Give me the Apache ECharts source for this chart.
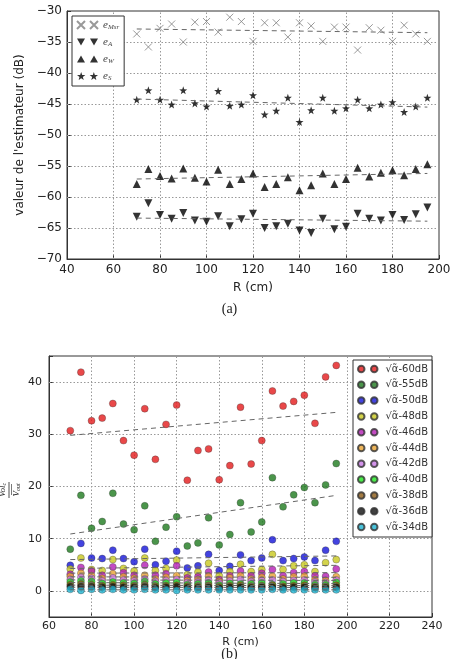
<!DOCTYPE html>
<html>
<head>
<meta charset="utf-8">
<script src="https://cdn.jsdelivr.net/npm/echarts@6/dist/echarts.min.js"></script>
<style>
  html, body { margin: 0; padding: 0; background: #fff; }
  #main { width: 459px; height: 659px; }
</style>
</head>
<body>
<div id="main"></div>
<script>
// distances R (cm), communes aux deux figures
var R = [70, 75, 80, 85, 90, 95, 100, 105, 110, 115, 120, 125, 130, 135, 140, 145, 150, 155, 160, 165, 170, 175, 180, 185, 190, 195];
var trendR = [70, 195];

// graduations (lignes de grille)
var ticksXA = [60, 80, 100, 120, 140, 160, 180];
var ticksYA = [-65, -60, -55, -50, -45, -40, -35];
var ticksXB = [80, 100, 120, 140, 160, 180, 200, 220];
var ticksYB = [0, 10, 20, 30, 40];

// (a) valeur de l'estimateur (dB)
var eMsr = [-33.7, -35.8, -32.8, -32.1, -35.0, -31.8, -31.7, -33.4, -31.0, -31.7, -34.9, -31.9, -31.9, -34.2, -31.9, -32.4, -34.9, -32.6, -32.6, -36.3, -32.7, -33.1, -34.9, -32.3, -33.7, -34.9];
var eA = [-63.2, -61.0, -62.9, -63.5, -62.6, -63.8, -64.0, -63.1, -64.7, -63.6, -62.7, -65.0, -64.7, -64.3, -65.4, -65.8, -63.5, -65.2, -64.8, -62.7, -63.5, -63.8, -62.9, -63.7, -62.8, -61.7];
var eW = [-57.9, -55.5, -56.6, -57.0, -55.4, -56.9, -57.5, -55.6, -57.9, -57.1, -56.2, -58.4, -57.9, -56.8, -58.9, -58.1, -56.2, -57.9, -57.1, -55.3, -56.7, -56.1, -55.7, -56.5, -55.5, -54.7];
var eS = [-44.3, -42.8, -44.3, -45.1, -42.8, -44.9, -45.4, -42.9, -45.3, -45.1, -43.6, -46.7, -46.1, -44.0, -47.9, -46.0, -44.0, -46.1, -45.7, -44.3, -45.7, -45.1, -44.7, -46.3, -45.4, -44.0];
var trendMsr = [-32.9, -33.5];
var trendA = [-63.4, -63.9];
var trendW = [-57.1, -56.2];
var trendS = [-44.2, -45.5];

// (b) Vol_c / V_out
var levels = ['60', '55', '50', '48', '46', '44', '42', '40', '38', '36', '34'];
var v60 = [30.7, 41.9, 32.6, 33.1, 35.9, 28.8, 26.0, 34.9, 25.2, 31.9, 35.6, 21.2, 26.9, 27.2, 21.3, 24.0, 35.2, 24.3, 28.8, 38.3, 35.4, 36.3, 37.5, 32.1, 41.0, 43.2];
var v55 = [8.0, 18.3, 12.0, 13.3, 18.7, 12.8, 11.7, 16.3, 9.5, 12.2, 14.2, 8.6, 9.2, 14.0, 8.8, 10.8, 16.9, 11.3, 13.2, 21.7, 16.1, 18.4, 19.8, 16.9, 20.3, 24.4];
var v50 = [4.9, 9.1, 6.3, 6.2, 7.8, 6.2, 5.6, 8.0, 5.0, 5.7, 7.6, 4.4, 4.8, 7.0, 3.9, 4.7, 6.9, 5.8, 6.3, 9.8, 5.8, 6.2, 6.5, 5.8, 7.8, 9.5];
var v48 = [4.2, 6.3, 4.1, 3.9, 6.0, 4.3, 3.8, 6.3, 3.9, 4.3, 5.9, 3.1, 3.6, 5.3, 2.9, 3.7, 5.1, 3.7, 4.1, 7.0, 4.1, 4.8, 5.0, 3.7, 5.4, 6.0];
var v46 = [3.2, 4.5, 3.8, 3.0, 4.6, 3.5, 3.0, 4.9, 3.0, 3.3, 4.8, 2.5, 2.7, 3.6, 2.2, 2.9, 3.8, 2.9, 3.4, 4.1, 2.9, 3.5, 3.7, 2.9, 2.8, 4.2];
var v44 = [2.8, 3.4, 2.9, 2.4, 3.3, 2.7, 2.4, 3.0, 2.3, 2.6, 2.9, 2.0, 2.2, 2.8, 1.8, 2.5, 2.9, 2.3, 2.6, 2.8, 2.3, 2.7, 2.8, 2.2, 2.0, 2.7];
var v42 = [2.2, 2.6, 2.4, 1.9, 2.5, 2.1, 1.9, 2.3, 1.8, 2.0, 2.2, 1.6, 1.7, 2.1, 1.5, 1.9, 2.2, 1.8, 2.0, 2.1, 1.8, 2.0, 2.1, 1.7, 1.6, 2.1];
var v40 = [1.7, 1.9, 1.8, 1.4, 1.7, 1.5, 1.4, 1.8, 1.3, 1.5, 1.6, 1.2, 1.3, 1.5, 1.1, 1.4, 1.3, 1.3, 1.5, 1.2, 1.3, 1.5, 1.5, 1.2, 1.2, 1.6];
var v38 = [1.2, 1.3, 1.2, 1.0, 1.2, 1.1, 1.0, 1.2, 0.9, 1.0, 1.1, 0.9, 0.9, 1.1, 0.8, 1.0, 1.1, 0.9, 1.0, 1.1, 0.9, 1.0, 1.1, 0.9, 0.9, 1.1];
var v36 = [0.8, 0.8, 0.8, 0.7, 0.8, 0.7, 0.7, 0.8, 0.6, 0.7, 0.8, 0.6, 0.6, 0.7, 0.5, 0.7, 0.7, 0.6, 0.7, 0.7, 0.6, 0.7, 0.7, 0.6, 0.6, 0.7];
var v34 = [0.3, 0.1, 0.3, 0.2, 0.3, 0.2, 0.2, 0.3, 0.2, 0.2, 0.1, 0.2, 0.2, 0.2, 0.2, 0.2, 0.2, 0.2, 0.2, 0.3, 0.2, 0.2, 0.2, 0.2, 0.2, 0.2];
var valuesB = [v60, v55, v50, v48, v46, v44, v42, v40, v38, v36, v34];
var trendB = [[29.8, 34.2], [10.9, 18.3], [6.0, 6.7], [4.3, 4.9], [3.4, 3.5], [2.7, 2.6], [2.1, 2.0], [1.6, 1.4], [1.1, 1.0], [0.7, 0.65], [0.2, 0.2]];
var colorsB = ['#e41a1c', '#1e7b1e', '#1414d8', '#c8c81e', '#b41eb4', '#e8a232', '#c878e6', '#1ee61e', '#8c5a14', '#111111', '#1eb4d2'];

// formes des marqueurs
function starAt(cx, cy, ro, ri) {
    var s = '';
    for (var k = 0; k < 10; k++) {
        var ang = -Math.PI / 2 + k * Math.PI / 5;
        var r = k % 2 ? ri : ro;
        s += (k ? 'L' : 'M') + (cx + r * Math.cos(ang)).toFixed(2) + ',' + (cy + r * Math.sin(ang)).toFixed(2);
    }
    return s + 'Z';
}
var symCross = 'path://M0,0L10,10M10,0L0,10';
var symDown = 'path://M0,0L10,0L5,9Z';
var symStar = 'path://' + starAt(5, 5, 5, 2);
var iconCross = 'path://M0,0L8,8M8,0L0,8M13,0L21,8M21,0L13,8';
var iconDown = 'path://M0,0L8,0L4,7ZM13,0L21,0L17,7Z';
var iconUp = 'path://M0,7L8,7L4,0ZM13,7L21,7L17,0Z';
var iconStar = 'path://' + starAt(4, 4.5, 4.5, 1.8) + starAt(17, 4.5, 4.5, 1.8);
var iconDots = 'path://M0,5A5,5 0 1,1 10,5A5,5 0 1,1 0,5ZM20,5A5,5 0 1,1 30,5A5,5 0 1,1 20,5Z';

function pts(ys) { return R.map(function (r, i) { return [r, ys[i]]; }); }
function trend(ys, xi) {
    return {
        type: 'line', xAxisIndex: xi, yAxisIndex: xi, silent: true,
        showSymbol: false, symbol: 'none',
        data: [[trendR[0], ys[0]], [trendR[1], ys[1]]],
        lineStyle: { color: '#666', width: 1, type: [5, 4] }
    };
}
// grille pointillée tracée par markLine sur les valeurs des graduations
function gridMarks(xs, ys) {
    return {
        z: 1, silent: true, symbol: ['none', 'none'], animation: false,
        label: { show: false },
        lineStyle: { color: '#999', type: [1.5, 2], width: 1 },
        data: xs.map(function (v) { return { xAxis: v }; }).concat(ys.map(function (v) { return { yAxis: v }; }))
    };
}
function minus(v) { return String(v).replace('-', '\u2212'); }

function tick() { return { show: true, inside: true, length: 4, lineStyle: { color: '#333' } }; }
function axLine() { return { show: true, onZero: false, lineStyle: { color: '#333' } }; }
var noSplit = { show: false };
var lbl = { color: '#222', fontFamily: 'DejaVu Sans', fontSize: 12 };
var lblB = { color: '#222', fontFamily: 'DejaVu Sans', fontSize: 11 };

var seriesA = [
    { name: 'Msr', data: eMsr, symbol: symCross, size: 7, style: { color: '#808080', borderColor: '#808080', borderWidth: 1 } },
    { name: 'A', data: eA, symbol: symDown, size: 8, style: { color: '#000' } },
    { name: 'W', data: eW, symbol: 'triangle', size: 8, style: { color: '#000' } },
    { name: 'S', data: eS, symbol: symStar, size: 8, style: { color: '#000' } }
];
var labelsB = levels.map(function (l) { return '\u221A\u03B1\u0303-' + l + 'dB'; });

var series = [];
[trendMsr, trendA, trendW, trendS].forEach(function (t) { series.push(trend(t, 0)); });
series[0].markLine = gridMarks(ticksXA, ticksYA);
seriesA.forEach(function (s) {
    series.push({
        type: 'scatter', name: s.name, xAxisIndex: 0, yAxisIndex: 0,
        symbol: s.symbol, symbolSize: s.size, data: pts(s.data), itemStyle: s.style
    });
});
var firstB = series.length;
trendB.forEach(function (t) { series.push(trend(t, 1)); });
series[firstB].markLine = gridMarks(ticksXB, ticksYB);
valuesB.forEach(function (v, i) {
    series.push({
        type: 'scatter', name: labelsB[i], xAxisIndex: 1, yAxisIndex: 1,
        symbol: 'circle', symbolSize: 7, data: pts(v),
        itemStyle: { color: colorsB[i], borderColor: '#333', borderWidth: 0.4 }
    });
});

var chart = echarts.init(document.getElementById('main'));
chart.setOption({
    animation: false,
    grid: [
        { left: 67, top: 11, width: 372, height: 248, show: true, borderColor: '#333', borderWidth: 1 },
        { left: 49, top: 356, width: 383, height: 261, show: true, borderColor: '#333', borderWidth: 1 }
    ],
    xAxis: [
        { gridIndex: 0, type: 'value', min: 40, max: 200, interval: 20, axisLine: axLine(), axisTick: tick(), splitLine: noSplit,
          axisLabel: Object.assign({ margin: 5 }, lbl),
          name: 'R (cm)', nameLocation: 'middle', nameGap: 23, nameTextStyle: lbl },
        { gridIndex: 1, type: 'value', min: 60, max: 240, interval: 20, axisLine: axLine(), axisTick: tick(), splitLine: noSplit,
          axisLabel: Object.assign({ margin: 4 }, lblB),
          name: 'R (cm)', nameLocation: 'middle', nameGap: 20, nameTextStyle: lblB }
    ],
    yAxis: [
        { gridIndex: 0, type: 'value', min: -70, max: -30, interval: 5, axisLine: axLine(), axisTick: tick(), splitLine: noSplit,
          axisLabel: Object.assign({ margin: 5, formatter: minus }, lbl),
          name: "valeur de l'estimateur (dB)", nameLocation: 'middle', nameRotate: 90, nameGap: 35, nameTextStyle: lbl },
        { gridIndex: 1, type: 'value', min: -5, max: 45, splitNumber: 5, axisLine: axLine(), axisTick: tick(), splitLine: noSplit,
          axisLabel: Object.assign({ margin: 7, formatter: function (v) { return v % 10 === 0 ? minus(v) : ''; } }, lblB) }
    ],
    legend: [
        {
            z: 20, orient: 'vertical', left: 72, top: 16, padding: [3, 5, 4, 4], itemGap: 5,
            itemWidth: 21, itemHeight: 8, backgroundColor: '#fff', borderColor: '#333', borderWidth: 1,
            selectedMode: false,
            data: [
                { name: 'Msr', icon: iconCross },
                { name: 'A', icon: iconDown },
                { name: 'W', icon: iconUp },
                { name: 'S', icon: iconStar }
            ],
            formatter: function (n) { return '{e|e}{s|' + n + '}'; },
            textStyle: {
                lineHeight: 12, color: '#444',
                rich: {
                    e: { fontFamily: 'Liberation Serif', fontStyle: 'italic', fontSize: 11, color: '#444', lineHeight: 12 },
                    s: { fontFamily: 'Liberation Serif', fontStyle: 'italic', fontSize: 7, color: '#444', lineHeight: 12, verticalAlign: 'bottom', padding: [5, 0, 0, 0] }
                }
            }
        },
        {
            z: 20, orient: 'vertical', left: 353, top: 360, padding: [3, 4, 4, 4], itemGap: 3.8,
            itemWidth: 19.5, itemHeight: 6.5, backgroundColor: '#fff', borderColor: '#333', borderWidth: 1,
            selectedMode: false,
            data: labelsB.map(function (n) { return { name: n, icon: iconDots }; }),
            textStyle: { fontFamily: 'DejaVu Sans', fontSize: 10, color: '#333', lineHeight: 12, padding: [0, 0, 0, 3] }
        }
    ],
    graphic: [
        { type: 'text', left: 'center', top: 302, style: { text: '(a)', font: '14px "Liberation Serif"', fill: '#222' } },
        { type: 'text', left: 'center', top: 647, style: { text: '(b)', font: '14px "Liberation Serif"', fill: '#222' } },
        {
            type: 'group', x: 9, y: 490, rotation: Math.PI / 2,
            children: [
                { type: 'text', x: 0, y: -1.5, style: { text: '{v|Vol}{s|c}', align: 'center', verticalAlign: 'bottom',
                    rich: { v: { font: 'italic 9px "Liberation Serif"', fill: '#222' }, s: { font: 'italic 6px "Liberation Serif"', fill: '#222', verticalAlign: 'bottom' } } } },
                { type: 'line', shape: { x1: -8, y1: 0, x2: 8, y2: 0 }, style: { stroke: '#222', lineWidth: 0.8 } },
                { type: 'line', shape: { x1: -5, y1: 2.5, x2: 6, y2: 2.5 }, style: { stroke: '#222', lineWidth: 0.6 } },
                { type: 'text', x: 0, y: 3, style: { text: '{v|V}{s|out}', align: 'center', verticalAlign: 'top',
                    rich: { v: { font: 'italic 9px "Liberation Serif"', fill: '#222' }, s: { font: 'italic 6px "Liberation Serif"', fill: '#222', verticalAlign: 'bottom' } } } }
            ]
        }
    ],
    series: series
});
</script>
</body>
</html>
